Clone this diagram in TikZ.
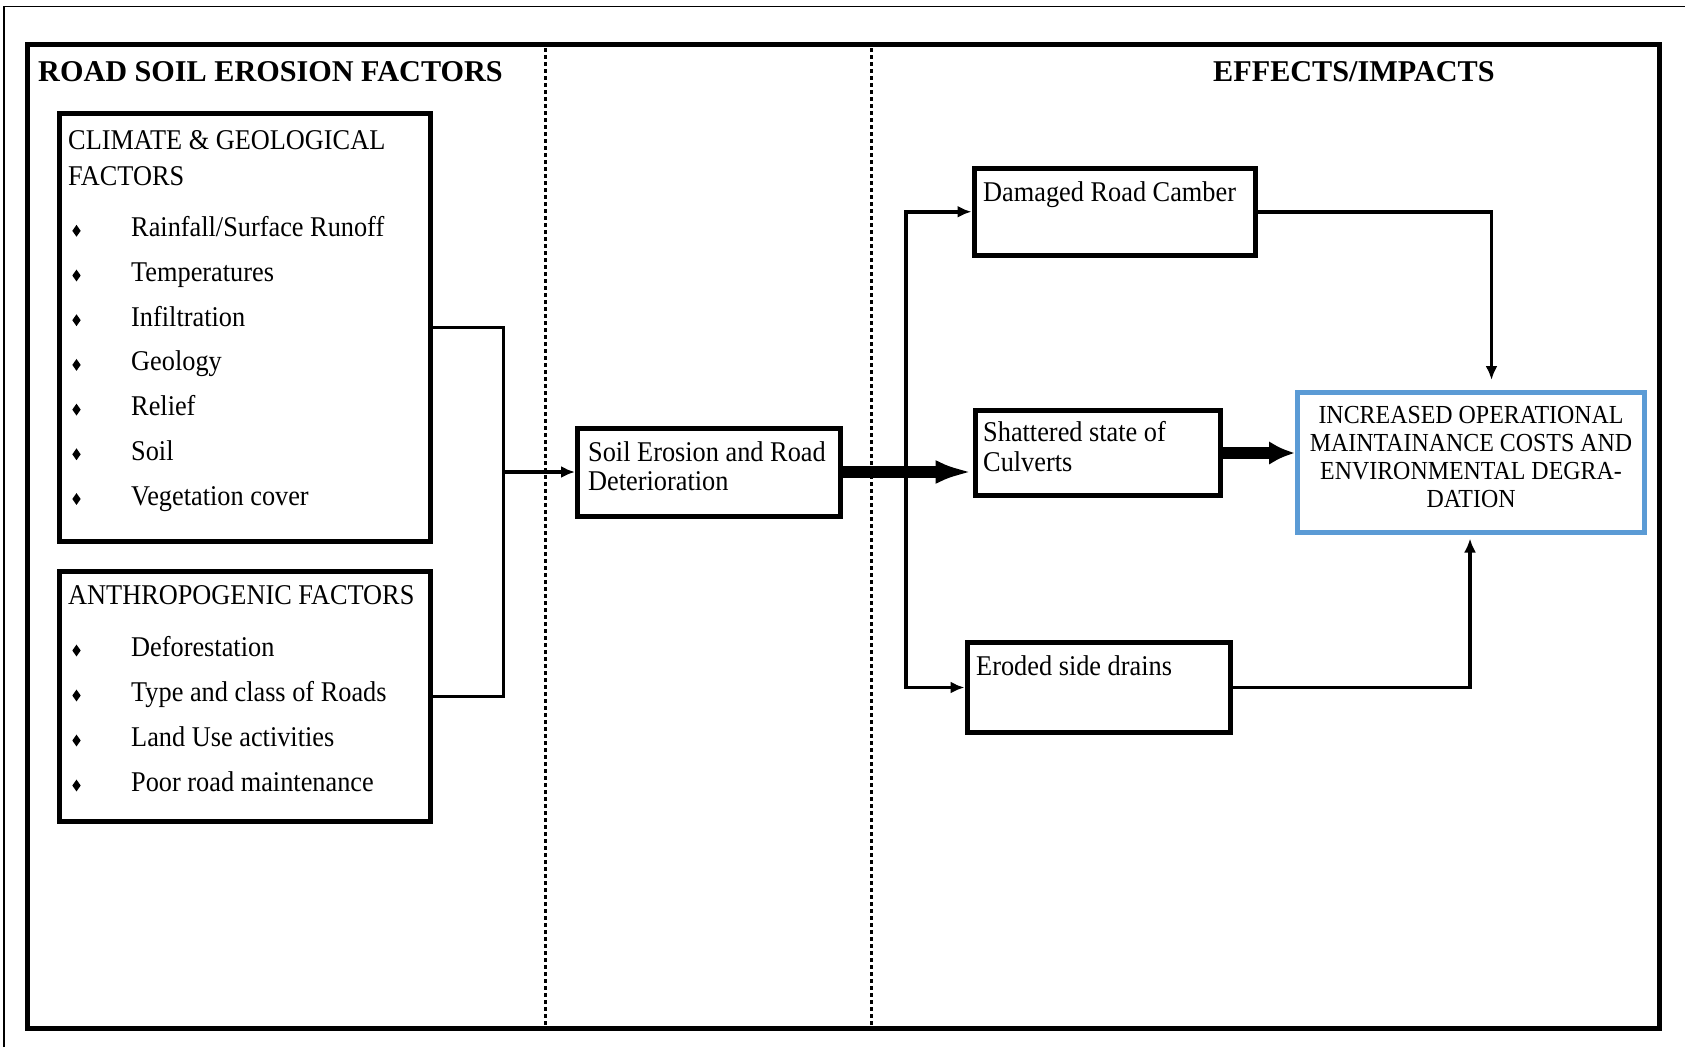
\documentclass[tikz,border=0pt]{standalone}
\usepackage{fontspec}
\setmainfont{Liberation Serif}
\newfontfamily\bodyfont{Liberation Serif}[FakeStretch=0.92]
\usetikzlibrary{arrows.meta,shapes.geometric}
\definecolor{boxblue}{RGB}{91,155,213}
\tikzset{
  box/.style={draw, line width=5pt, inner sep=0pt, rectangle},
  bluebox/.style={draw=boxblue, line width=5pt, inner sep=0pt, rectangle},
  txt/.style={inner sep=0pt, anchor=base west, font=\bodyfont\fontsize{28.6pt}{32pt}\selectfont},
  titletxt/.style={inner sep=0pt, anchor=base west, font=\fontsize{30.2pt}{34pt}\selectfont\bfseries},
  bluetxt/.style={inner sep=0pt, align=center, font=\bodyfont\fontsize{26pt}{28.1pt}\selectfont},
  bul/.style={diamond, fill=black, inner sep=0pt, minimum width=8.5pt, minimum height=12pt},
  conn/.style={line width=3.5pt, line join=miter},
  thinarrow/.style={conn, -{Latex[length=14pt,width=12pt]}},
  thickarrow/.style={line width=11.5pt, -{Latex[length=37pt,width=24pt]}},
  thickarrowb/.style={line width=11.5pt, -{Latex[length=26pt,width=24pt]}},
  divider/.style={line width=3.5pt, dash pattern=on 4pt off 3pt},
}
\begin{document}
\begin{tikzpicture}[x=1pt,y=-1pt]
\useasboundingbox (0,0) rectangle (1685,1047);
% frames
\draw[line width=1.5pt] (4.2,1047) -- (4.2,6.7) -- (1685,6.7);
\draw[line width=5pt] (27,44.5) rectangle (1659.5,1028);
\draw[divider] (545.5,48) -- (545.5,1025);
\draw[divider] (871.5,48) -- (871.5,1025);
% titles
\node[titletxt] (t1) at (38,81.5) {ROAD SOIL EROSION FACTORS};
\node[titletxt] (t2) at (1213,81.5) {EFFECTS/IMPACTS};
% climate box
\node[box, minimum width=370.5pt, minimum height=428.7pt] (climate) at (245,327.4) {};
\node[txt] (ch1) at (68,149.3) {CLIMATE \& GEOLOGICAL};
\node[txt] (ch2) at (68,185) {FACTORS};
\foreach \t [count=\i from 0] in {Rainfall/Surface Runoff, Temperatures, Infiltration, Geology, Relief, Soil, Vegetation cover}{
  \node[bul] (cb\i) at (76.5,{236.8+44.7*\i-6}) {};
  \node[txt] (ci\i) at (131,{236.8+44.7*\i}) {\t};
}
% anthropogenic box
\node[box, minimum width=370.5pt, minimum height=250pt] (anthro) at (245,696.7) {};
\node[txt] (ah) at (68,604) {ANTHROPOGENIC FACTORS};
\foreach \t [count=\i from 0] in {Deforestation, Type and class of Roads, Land Use activities, Poor road maintenance}{
  \node[bul] (ab\i) at (76.5,{656.5+45*\i-6}) {};
  \node[txt] (ai\i) at (131,{656.5+45*\i}) {\t};
}
% soil erosion box
\node[box, minimum width=262.5pt, minimum height=88pt] (soil) at (708.75,472) {};
\node[txt] (s1) at (588,461.7) {Soil Erosion and Road};
\node[txt] (s2) at (588,490.7) {Deterioration};
% effects boxes
\node[box, minimum width=281pt, minimum height=87.5pt] (camber) at (1114.5,211.75) {};
\node[txt] (d1) at (983,201) {Damaged Road Camber};
\node[box, minimum width=245pt, minimum height=85pt] (culv) at (1097.5,453) {};
\node[txt] (c1) at (983,441.7) {Shattered state of};
\node[txt] (c2) at (983,471.7) {Culverts};
\node[box, minimum width=263pt, minimum height=90pt] (drain) at (1098.5,687.5) {};
\node[txt] (e1) at (976,675) {Eroded side drains};
% result box
\node[bluebox, minimum width=347pt, minimum height=140.5pt] (result) at (1471,462.25) {};
\node[bluetxt] (r) at (1471,457) {INCREASED OPERATIONAL\\MAINTAINANCE COSTS AND\\ENVIRONMENTAL DEGRA-\\DATION};
% connectors
\coordinate (join) at (503.7,472);
\draw[conn] (climate.east) -| (join);
\draw[conn] (anthro.east) -| (join);
\draw[thinarrow] (join) -- (soil.west);
\draw[thickarrow] (soil.east) -- (culv.west |- soil.east);
\coordinate (split) at (906,472);
\draw[thinarrow] (split) |- (camber.west);
\draw[thinarrow] (split) |- (drain.west);
\coordinate (inTop) at (1491.5,380);
\coordinate (inBot) at (1470,538.5);
\draw[thinarrow] (camber.east) -| (inTop);
\draw[thinarrow] (drain.east) -| (inBot);
\draw[thickarrowb] (culv.east) -- (result.west |- culv.east);
\end{tikzpicture}
\end{document}
